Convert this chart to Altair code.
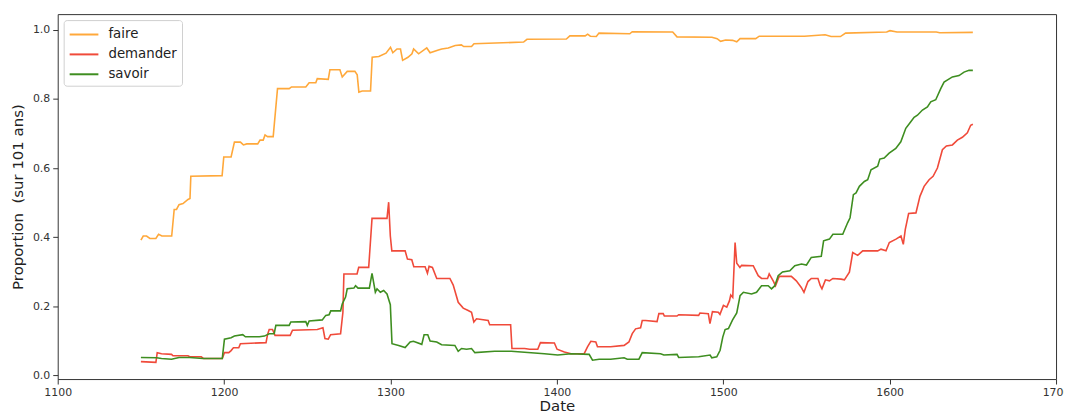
import altair as alt
import pandas as pd

series_names = ["faire", "demander", "savoir"]
series_colors = ["#FFA83A", "#F04A3A", "#3E8E20"]

x_ticks = [1100, 1200, 1300, 1400, 1500, 1600, 1700]
y_ticks = [0.0, 0.2, 0.4, 0.6, 0.8, 1.0]

faire = [
    (1150, 0.391), (1151.4, 0.403), (1153.4, 0.403), (1155.4, 0.396), (1159, 0.396),
    (1160.6, 0.408), (1162.6, 0.403), (1168.5, 0.403), (1170, 0.480), (1171.4, 0.480),
    (1172.9, 0.494), (1175.3, 0.497), (1178.3, 0.509), (1179.5, 0.512), (1180, 0.576),
    (1198.8, 0.578), (1199.8, 0.632), (1204.2, 0.632), (1206.2, 0.675), (1209.8, 0.675),
    (1211.6, 0.667), (1213.6, 0.670), (1220.2, 0.670), (1221.6, 0.681), (1223.5, 0.681),
    (1224.6, 0.696), (1226.1, 0.691), (1229.5, 0.691), (1232.1, 0.830), (1239.1, 0.830),
    (1240.5, 0.835), (1249.1, 0.835), (1251.1, 0.847), (1255.1, 0.847), (1256, 0.859),
    (1262.6, 0.857), (1263.6, 0.885), (1269.6, 0.885), (1271, 0.864), (1274, 0.880),
    (1278.6, 0.880), (1280, 0.870), (1281, 0.820), (1283, 0.823), (1288, 0.823),
    (1289, 0.921), (1293, 0.923), (1297.3, 0.933), (1300, 0.950), (1301.4, 0.934),
    (1303.9, 0.945), (1306, 0.945), (1307.3, 0.912), (1310.5, 0.921), (1312.9, 0.931),
    (1313.9, 0.945), (1316.9, 0.931), (1321.8, 0.948), (1323.8, 0.934), (1328.8, 0.942),
    (1330.8, 0.945), (1334.7, 0.948), (1338.9, 0.955), (1342.6, 0.957), (1344, 0.952),
    (1348.7, 0.952), (1350.2, 0.960), (1380, 0.965), (1382, 0.973), (1405.7, 0.974),
    (1407.8, 0.983), (1417, 0.983), (1418.5, 0.988), (1420.1, 0.982), (1423.7, 0.981),
    (1425.3, 0.991), (1443.8, 0.989), (1445.3, 0.995), (1469.6, 0.994), (1472.2, 0.980),
    (1493.2, 0.979), (1496.3, 0.975), (1498.4, 0.967), (1501.4, 0.971), (1505.6, 0.970),
    (1508.1, 0.966), (1510.1, 0.975), (1519.5, 0.975), (1521.6, 0.982), (1548.8, 0.982),
    (1561.2, 0.986), (1564.8, 0.981), (1570.4, 0.981), (1573.5, 0.991), (1598.2, 0.994),
    (1600.2, 0.998), (1604.4, 0.994), (1628, 0.994), (1630.1, 0.992), (1650, 0.993),
]

demander = [
    (1150, 0.039), (1159, 0.037), (1159.8, 0.065), (1162.4, 0.062), (1168.4, 0.060),
    (1169.3, 0.056), (1178.3, 0.056), (1179.3, 0.053), (1186.3, 0.053), (1187.7, 0.048),
    (1198.9, 0.048), (1200.2, 0.065), (1202.8, 0.065), (1204.2, 0.071), (1205.6, 0.079),
    (1208.8, 0.079), (1209.8, 0.091), (1225.2, 0.094), (1226.1, 0.117), (1227.1, 0.132),
    (1229.1, 0.132), (1230.6, 0.115), (1239.7, 0.115), (1241.1, 0.130), (1256, 0.132),
    (1259.4, 0.137), (1260.6, 0.106), (1262.6, 0.104), (1264, 0.117), (1270, 0.120),
    (1271.4, 0.182), (1272, 0.293), (1279.9, 0.293), (1280.9, 0.312), (1286.9, 0.312),
    (1288.9, 0.454), (1297.9, 0.454), (1298.9, 0.501), (1299.9, 0.403), (1300.8, 0.360),
    (1308.8, 0.360), (1310.2, 0.336), (1312.8, 0.334), (1314, 0.314), (1320.8, 0.314),
    (1322.2, 0.295), (1323.2, 0.315), (1325.2, 0.312), (1327.8, 0.280), (1335.7, 0.280),
    (1337.7, 0.261), (1340.7, 0.211), (1343.7, 0.194), (1346.7, 0.187), (1348.7, 0.182),
    (1350.1, 0.154), (1351.7, 0.163), (1358.7, 0.158), (1359.6, 0.146), (1372.2, 0.146),
    (1373, 0.077), (1380.6, 0.077), (1383.6, 0.075), (1388.5, 0.075), (1390.1, 0.094),
    (1398.5, 0.093), (1400.1, 0.075), (1404.5, 0.067), (1408.5, 0.062), (1416.4, 0.062),
    (1418.4, 0.082), (1420.4, 0.098), (1423.4, 0.096), (1424.4, 0.082), (1432.3, 0.082),
    (1440.4, 0.086), (1443.3, 0.096), (1445.3, 0.120), (1447.3, 0.134), (1450.3, 0.137),
    (1451.3, 0.158), (1453.3, 0.158), (1460.2, 0.155), (1461.3, 0.178), (1463.9, 0.178),
    (1464.6, 0.171), (1472.2, 0.171), (1473.2, 0.175), (1485.2, 0.173), (1486, 0.180),
    (1491, 0.178), (1492, 0.149), (1493.5, 0.184), (1497, 0.182), (1498, 0.176),
    (1500.1, 0.202), (1502.1, 0.197), (1503.7, 0.215), (1504.5, 0.232), (1505.7, 0.225),
    (1507.1, 0.384), (1508.1, 0.324), (1510, 0.312), (1511, 0.318), (1518, 0.317),
    (1521, 0.288), (1523, 0.280), (1526.6, 0.280), (1527.6, 0.293), (1530, 0.273),
    (1531.4, 0.259), (1533.6, 0.286), (1540.9, 0.286), (1543.9, 0.273), (1546.9, 0.254),
    (1548.5, 0.240), (1550.9, 0.271), (1552.9, 0.280), (1556.9, 0.280), (1558.3, 0.259),
    (1559.3, 0.250), (1561.4, 0.276), (1563.8, 0.273), (1565.9, 0.280), (1570.8, 0.278),
    (1572.8, 0.276), (1575.8, 0.298), (1577.8, 0.355), (1580.8, 0.347), (1583.8, 0.360),
    (1592.8, 0.360), (1594.8, 0.365), (1597.8, 0.360), (1599.8, 0.384), (1603.8, 0.394),
    (1606.8, 0.403), (1608.2, 0.379), (1609.4, 0.422), (1611.4, 0.468), (1615.8, 0.470),
    (1618.2, 0.518), (1620.7, 0.547), (1623.7, 0.566), (1626.1, 0.576), (1628.7, 0.600),
    (1631.7, 0.653), (1634.1, 0.664), (1637.7, 0.667), (1640.7, 0.681), (1643.7, 0.689),
    (1646.7, 0.702), (1648.7, 0.724), (1650, 0.727),
]

savoir = [
    (1150, 0.051), (1159.4, 0.050), (1162.4, 0.048), (1168.4, 0.046), (1172.9, 0.051),
    (1179.3, 0.051), (1187.3, 0.048), (1198.9, 0.048), (1200.2, 0.104), (1204.2, 0.108),
    (1206.2, 0.113), (1211.2, 0.117), (1212.8, 0.111), (1221.2, 0.111), (1224.2, 0.113),
    (1227.1, 0.120), (1230.1, 0.120), (1231.1, 0.144), (1239.1, 0.144), (1240.1, 0.154),
    (1249.1, 0.155), (1250, 0.144), (1251.1, 0.157), (1259, 0.160), (1261.1, 0.173),
    (1263.1, 0.175), (1264.1, 0.186), (1270, 0.186), (1271, 0.206), (1273, 0.226),
    (1274, 0.250), (1278, 0.252), (1279, 0.259), (1280.5, 0.252), (1287.3, 0.252),
    (1288.9, 0.295), (1290.9, 0.240), (1291.9, 0.250), (1293.9, 0.240), (1295.9, 0.245),
    (1297.9, 0.235), (1299.9, 0.204), (1300.9, 0.091), (1304.9, 0.086), (1308.8, 0.080),
    (1311.8, 0.096), (1313.8, 0.098), (1318.8, 0.089), (1320.2, 0.117), (1322.4, 0.117),
    (1323.8, 0.099), (1327.8, 0.096), (1330.7, 0.088), (1338.7, 0.086), (1340.7, 0.069),
    (1342.7, 0.077), (1345.7, 0.075), (1348.7, 0.077), (1350.7, 0.065), (1362.6, 0.069),
    (1372.6, 0.069), (1392.5, 0.062), (1400.5, 0.058), (1408.5, 0.062), (1419.4, 0.060),
    (1421.4, 0.043), (1425.4, 0.046), (1432.3, 0.046), (1440.4, 0.050), (1442.3, 0.046),
    (1449.3, 0.046), (1451.3, 0.065), (1462.3, 0.062), (1464.3, 0.058), (1472.2, 0.060),
    (1473.2, 0.051), (1485.2, 0.053), (1492.1, 0.058), (1493.1, 0.050), (1496.1, 0.053),
    (1498.1, 0.072), (1499.7, 0.110), (1501.1, 0.132), (1503.1, 0.135), (1505.6, 0.160),
    (1508.1, 0.180), (1510.1, 0.230), (1512.1, 0.240), (1517, 0.235), (1520, 0.240),
    (1523, 0.259), (1527, 0.259), (1529, 0.250), (1531, 0.259), (1533, 0.288),
    (1535.6, 0.299), (1540, 0.302), (1543, 0.317), (1547, 0.322), (1550, 0.319),
    (1552.9, 0.341), (1558.9, 0.344), (1560.3, 0.389), (1563.8, 0.394), (1565.9, 0.408),
    (1571.8, 0.408), (1574.8, 0.442), (1576.2, 0.456), (1578.2, 0.523), (1579.8, 0.528),
    (1581.8, 0.547), (1584.8, 0.561), (1586.8, 0.566), (1588.8, 0.595), (1592.8, 0.605),
    (1594.1, 0.626), (1596.7, 0.629), (1599.7, 0.643), (1603.7, 0.657), (1606.7, 0.676),
    (1609.7, 0.715), (1612.7, 0.734), (1614.7, 0.747), (1616.7, 0.753), (1619.7, 0.768),
    (1622.7, 0.777), (1624.7, 0.792), (1627.7, 0.798), (1630.7, 0.830), (1632.7, 0.849),
    (1637.7, 0.864), (1641.7, 0.868), (1644.7, 0.878), (1647.7, 0.883), (1650, 0.883),
]

rows = []
for name, pts in zip(series_names, [faire, demander, savoir]):
    for i, (yr, v) in enumerate(pts):
        rows.append({"Date": yr, "Proportion": v, "mot": name, "i": i})
df = pd.DataFrame(rows)

FONT = "DejaVu Sans"

chart = (
    alt.Chart(df)
    .mark_line(strokeWidth=1.6, clip=True)
    .encode(
        x=alt.X(
            "Date:Q",
            scale=alt.Scale(domain=[1100, 1700], nice=False, zero=False),
            axis=alt.Axis(values=x_ticks, format="d", title="Date",
                          labelFlush=False, titlePadding=1),
        ),
        y=alt.Y(
            "Proportion:Q",
            scale=alt.Scale(domain=[-0.0115, 1.046], nice=False, zero=False),
            axis=alt.Axis(values=y_ticks, format=".1f",
                          title="Proportion\u00a0 (sur 101 ans)", titlePadding=7),
        ),
        color=alt.Color(
            "mot:N",
            sort=series_names,
            scale=alt.Scale(domain=series_names, range=series_colors),
            legend=alt.Legend(
                title=None, orient="top-left", offset=6, padding=5,
                strokeColor="#d0d0d0", cornerRadius=3, fillColor="white",
                symbolType="M-1,0H2.4", symbolSize=289, symbolStrokeWidth=2,
                labelFont=FONT, labelFontSize=13.4, labelColor="#222",
                labelOffset=21, rowPadding=4,
            ),
        ),
        order=alt.Order("i:Q"),
    )
    .properties(
        width=1004, height=367,
        autosize=alt.AutoSizeParams(type="none"),
        padding={"left": 50, "top": 5, "right": 8, "bottom": 36},
    )
    .configure_view(stroke="#333333", strokeWidth=1)
    .configure_axis(
        labelFont=FONT, labelFontSize=11, labelColor="#333333",
        tickColor="#333333", tickSize=5, labelPadding=3,
        domain=False, grid=False,
        titleFont=FONT, titleFontSize=15, titleFontWeight="normal", titleColor="#222222",
    )
)

chart.save("out.html", embed_options={"renderer": "svg", "actions": False})
